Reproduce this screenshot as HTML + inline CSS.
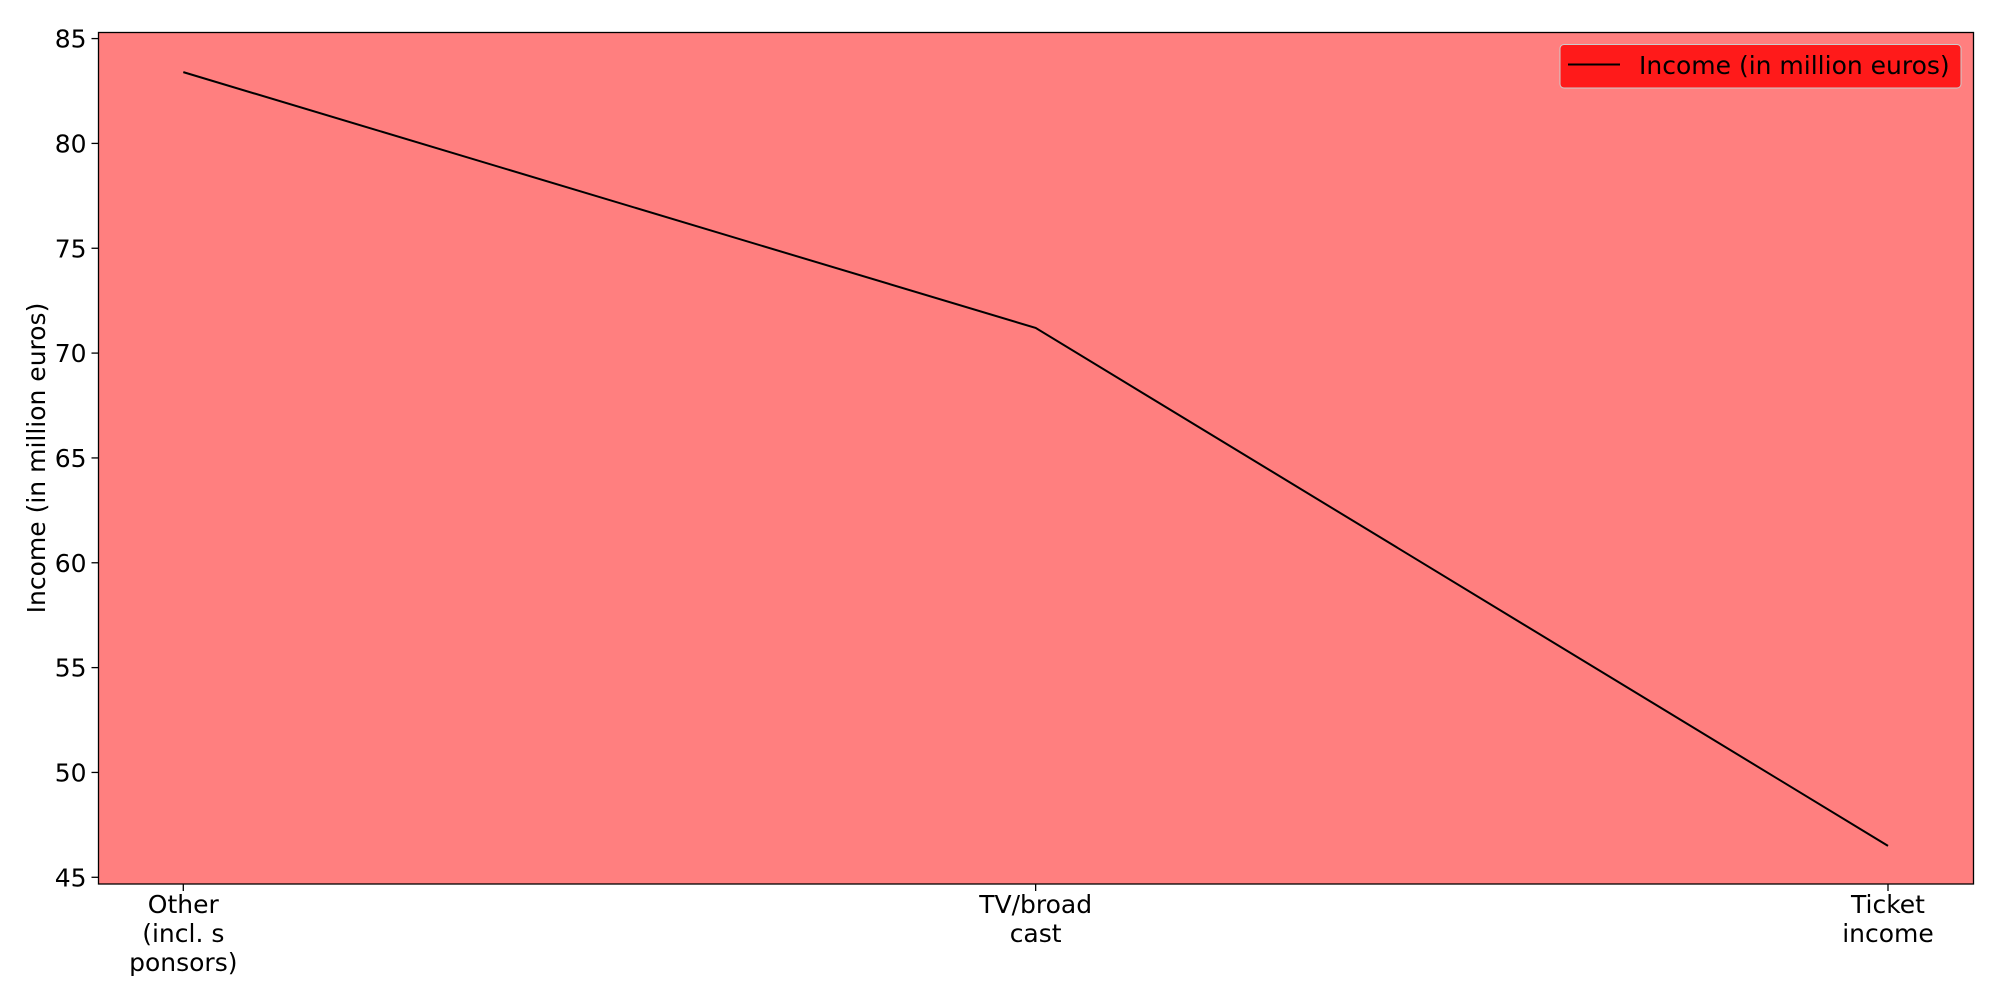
<!DOCTYPE html>
<html><head><meta charset="utf-8"><style>
body{margin:0;background:#fff}
svg{display:block;font-family:"DejaVu Sans","Liberation Sans",sans-serif}
</style></head><body>
<svg id="chart" width="2000" height="1000" viewBox="0 0 2000 1000">
<rect x="98.5" y="32.5" width="1875" height="851.5" fill="#ff7f7f"/>
<g id="yticks"></g>
<g id="xticks"></g>
<polyline id="line" fill="none" stroke="#000" stroke-width="2"/>
<rect x="98.5" y="32.5" width="1875" height="851.5" fill="none" stroke="#000" stroke-width="1.3"/>
<text transform="translate(45,458) rotate(-90)" text-anchor="middle" font-size="25">Income (in million euros)</text>
<g>
<rect x="1560" y="44.5" width="401" height="43.5" rx="4" fill="#ff1a1a" stroke="#cccccc" stroke-width="1"/>
<line x1="1568" y1="64.5" x2="1620" y2="64.5" stroke="#000" stroke-width="2"/>
<text x="1639" y="74" font-size="25">Income (in million euros)</text>
</g>
</svg>
<script>
const categories=[["Other","(incl. s","ponsors)"],["TV/broad","cast"],["Ticket","income"]];
const values=[83.4,71.2,46.5];
const yTicks=[45,50,55,60,65,70,75,80,85];
const X0=98.5,X1=1973.5,Y0=884,Y1=32.5,ymin=44.68,ymax=85.29;
const xs=i=>183.3+i*(1888-183.3)/(categories.length-1);
const ys=v=>Y0-(v-ymin)/(ymax-ymin)*(Y0-Y1);
const NS="http://www.w3.org/2000/svg";
const yg=document.getElementById('yticks');
yTicks.forEach(t=>{
 const y=ys(t);
 const l=document.createElementNS(NS,'line');
 l.setAttribute('x1',X0-7);l.setAttribute('x2',X0);l.setAttribute('y1',y);l.setAttribute('y2',y);l.setAttribute('stroke','#000');l.setAttribute('stroke-width','1.3');
 
 
 yg.appendChild(l);
 const tx=document.createElementNS(NS,'text');
 tx.setAttribute('x',X0-12);tx.setAttribute('y',y+9);tx.setAttribute('text-anchor','end');tx.setAttribute('font-size','25');
 tx.textContent=t;
 
 
 yg.appendChild(tx);
});
const xg=document.getElementById('xticks');
categories.forEach((c,i)=>{
 const x=xs(i);
 const l=document.createElementNS(NS,'line');
 l.setAttribute('x1',x);l.setAttribute('x2',x);l.setAttribute('y1',Y0);l.setAttribute('y2',Y0+7);l.setAttribute('stroke','#000');l.setAttribute('stroke-width','1.3');
 
 
 xg.appendChild(l);
 c.forEach((s,j)=>{
  const tx=document.createElementNS(NS,'text');
  tx.setAttribute('x',x);tx.setAttribute('y',913+j*29);tx.setAttribute('text-anchor','middle');tx.setAttribute('font-size','25');
  tx.textContent=s;
  
  
  xg.appendChild(tx);
 });
});
document.getElementById('line').setAttribute('points',values.map((v,i)=>xs(i)+','+ys(v)).join(' '));
</script>
</body></html>
